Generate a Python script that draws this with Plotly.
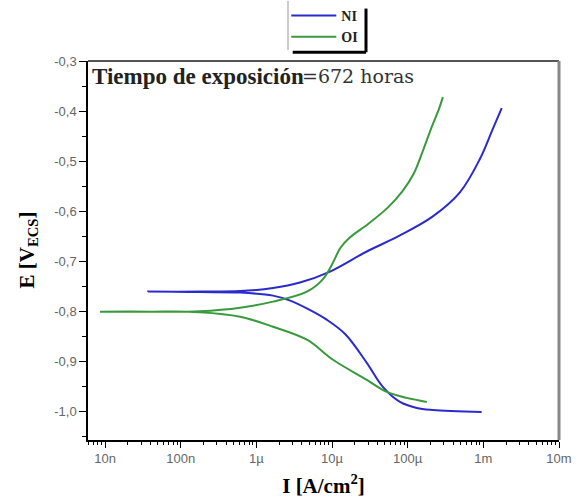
import plotly.graph_objects as go

# ---- data ----
# NI: current density (A/cm2) and potential (V vs ECS), cathodic end -> Ecorr -> anodic end
ni_current = [9.5e-4, 2.15e-4, 1.32e-4, 7.9e-5, 4.7e-5, 2.88e-5, 1.5e-5, 8.5e-6, 5.0e-6, 2.8e-6,
              1.66e-6, 6.1e-7, 1.8e-7, 3.7e-8,
              1.8e-7, 6.1e-7, 1.66e-6, 3.77e-6, 9.4e-6, 2.88e-5, 7.9e-5, 2.15e-4,
              4.9e-4, 8.97e-4, 1.33e-3, 1.75e-3]
ni_potential = [-1.000, -0.996, -0.992, -0.980, -0.950, -0.902, -0.845, -0.816, -0.796, -0.778,
                -0.768, -0.762, -0.761, -0.760,
                -0.760, -0.759, -0.753, -0.742, -0.720, -0.680, -0.648, -0.610,
                -0.562, -0.496, -0.436, -0.394]

# OI
oi_current = [1.79e-4, 9.75e-5, 5.3e-5, 2.88e-5, 1.03e-5, 4.66e-6, 1.66e-6, 6.1e-7, 1.8e-7, 3.9e-8,
              8.6e-9,
              3.9e-8, 1.8e-7, 6.1e-7, 1.66e-6, 4.66e-6, 7.5e-6, 1.0e-5, 1.3e-5, 1.72e-5,
              3.0e-5, 5.5e-5, 8.5e-5, 1.2e-4, 1.6e-4, 2.1e-4, 2.6e-4, 2.92e-4]
oi_potential = [-0.980, -0.972, -0.960, -0.936, -0.896, -0.856, -0.830, -0.810, -0.801, -0.800,
                -0.800,
                -0.800, -0.799, -0.792, -0.780, -0.760, -0.736, -0.706, -0.672, -0.652,
                -0.625, -0.592, -0.560, -0.525, -0.478, -0.430, -0.395, -0.372]

x_tick_vals = [1e-8, 1e-7, 1e-6, 1e-5, 1e-4, 1e-3, 1e-2]
x_tick_text = ["10n", "100n", "1µ", "10µ", "100µ", "1m", "10m"]
y_tick_vals = [-1.0, -0.9, -0.8, -0.7, -0.6, -0.5, -0.4, -0.3]
y_tick_text = ["-1,0", "-0,9", "-0,8", "-0,7", "-0,6", "-0,5", "-0,4", "-0,3"]

series_names = ["NI", "OI"]
series_colors = ["#2b2bcc", "#389a3c"]

# ---- figure ----
fig = go.Figure()
fig.add_trace(go.Scatter(x=ni_current, y=ni_potential, mode="lines", name=series_names[0],
                         line=dict(color=series_colors[0], width=2, shape="spline", smoothing=1.0)))
fig.add_trace(go.Scatter(x=oi_current, y=oi_potential, mode="lines", name=series_names[1],
                         line=dict(color=series_colors[1], width=2, shape="spline", smoothing=1.0)))

minor_x = [m * 10 ** e for e in range(-9, -2) for m in range(2, 10)]

tick_font = dict(family="Liberation Sans", size=13, color="#666666")
serif = "Liberation Serif"

fig.update_xaxes(
    type="log", range=[-8.225, -2.0],
    tickmode="array", tickvals=x_tick_vals, ticktext=x_tick_text,
    ticks="outside", ticklen=6, tickwidth=1, tickcolor="black",
    showline=True, linecolor="black", linewidth=1.5,
    showgrid=False, zeroline=False, tickfont=tick_font,
    minor=dict(tickvals=minor_x, ticks="outside", ticklen=3, tickcolor="black", showgrid=False),
    title=dict(text="<b>I [A/cm<sup>2</sup>]</b>", font=dict(family=serif, size=21, color="black")),
    automargin=False,
)
fig.update_yaxes(
    range=[-1.056, -0.3],
    tickmode="array", tickvals=y_tick_vals, ticktext=y_tick_text,
    ticks="outside", ticklen=7, tickwidth=1, tickcolor="black",
    showline=True, linecolor="black", linewidth=1.5,
    showgrid=False, zeroline=False, tickfont=tick_font,
    minor=dict(dtick=0.05, ticks="outside", ticklen=4, tickcolor="black", showgrid=False),
    automargin=False,
)

# y axis title as rotated annotation
fig.add_annotation(
    xref="paper", yref="paper", x=(27 - 88) / 471, y=0.5, xanchor="center", yanchor="middle",
    text="<b>E [V<sub>ECS</sub>]</b>", textangle=-90, showarrow=False,
    font=dict(family=serif, size=21, color="black"),
)

# top and right frame (grey)
fig.add_shape(type="line", xref="paper", yref="paper", x0=0, x1=1, y0=1, y1=1,
              line=dict(color="#555555", width=2))
fig.add_shape(type="line", xref="paper", yref="paper", x0=1, x1=1, y0=0, y1=1,
              line=dict(color="#888888", width=3))

# legend box: thin left border, thick shadow on right/bottom
lx0, lx1 = (288 - 88) / 471, (366 - 88) / 471
ly0, ly1 = (440 - 50) / 379, (440 - 1) / 379
fig.add_shape(type="line", xref="paper", yref="paper", x0=lx0, x1=lx0, y0=ly0, y1=ly1,
              line=dict(color="#999999", width=1))
fig.add_shape(type="line", xref="paper", yref="paper", x0=lx1, x1=lx1, y0=ly0 - 0.006, y1=ly1 - 0.02,
              line=dict(color="black", width=3))
fig.add_shape(type="line", xref="paper", yref="paper", x0=lx0 + 0.01, x1=lx1, y0=ly0 - 0.006, y1=ly0 - 0.006,
              line=dict(color="black", width=3))

# in-plot caption: bold part and regular part as two pieces
fig.add_annotation(
    xref="paper", yref="paper", x=0.005, y=0.997, xanchor="left", yanchor="top",
    text="<b>Tiempo de exposición</b>", showarrow=False,
    font=dict(family=serif, size=23, color="#222222"),
)
fig.add_annotation(
    xref="paper", yref="paper", x=(300 - 88) / 471, y=0.994, xanchor="left", yanchor="top",
    text="=672 horas", showarrow=False,
    font=dict(family="DejaVu Serif", size=19, color="#333333"),
)

fig.update_layout(
    width=576, height=498,
    margin=dict(l=88, r=17, t=61, b=58, autoexpand=False),
    paper_bgcolor="white", plot_bgcolor="white",
    showlegend=True,
    legend=dict(x=0.497, y=1.0, xref="container", yref="container",
                xanchor="left", yanchor="top",
                font=dict(family=serif, size=14, color="#222222", weight="bold"),
                bgcolor="rgba(0,0,0,0)", borderwidth=0,
                itemwidth=45, tracegroupgap=4),
)

fig.write_html("out.html")
